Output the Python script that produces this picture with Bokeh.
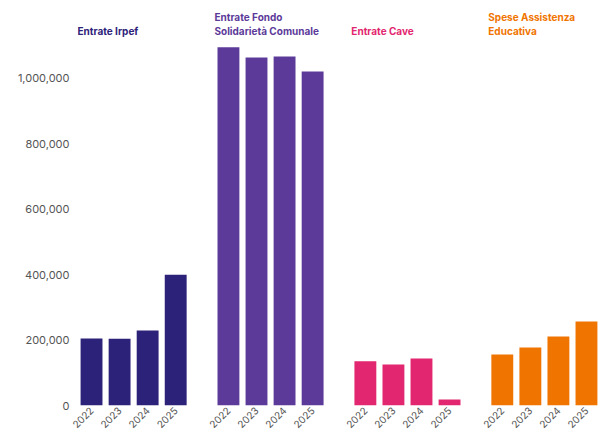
from bokeh.plotting import figure
from bokeh.models import FactorRange, Range1d, FixedTicker, ColumnDataSource, NumeralTickFormatter
from bokeh.core.properties import value
from bokeh.embed import file_html
from bokeh.resources import INLINE

years = ["2022", "2023", "2024", "2025"]
groups = ["Irpef", "Fondo", "Cave", "Spese"]
titles = ["Entrate Irpef", "Entrate Fondo\nSolidarietà Comunale", "Entrate Cave", "Spese Assistenza\nEducativa"]
irpef = [205000, 204000, 229000, 400000]
fondo = [1095000, 1064000, 1067000, 1021000]
cave = [135000, 125000, 144000, 18000]
spese = [156000, 177000, 211000, 257000]
colors = ["#2d2279", "#5c3a99", "#e2266f", "#f07400"]
y_ticks = [0, 200000, 400000, 600000, 800000, 1000000]
title_y = 1128000

series = [irpef, fondo, cave, spese]
xs, tops, cols = [], [], []
for g, vals, c in zip(groups, series, colors):
    for yr, v in zip(years, vals):
        xs.append((g, yr))
        tops.append(v)
        cols.append(c)
src = ColumnDataSource(dict(x=xs, top=tops, color=cols))

factors = [(g, yr) for g in groups for yr in years]
p = figure(x_range=FactorRange(*factors, group_padding=0.88, factor_padding=0.0,
                               range_padding=0.0, range_padding_units="absolute"),
           y_range=Range1d(0, 1226000),
           width=600, height=438, output_backend="svg", toolbar_location=None,
           min_border_left=77, min_border_right=0, min_border_top=4, min_border_bottom=33)
p.vbar(x="x", top="top", width=0.78, color="color", source=src, line_color=None)

tsrc = ColumnDataSource(dict(x=[(g, years[0]) for g in groups], y=[title_y] * 4,
                             text=titles, color=colors))
p.text(x="x", y="y", text="text", text_color="color", source=tsrc,
       x_offset=-14, text_align="left", text_baseline="bottom",
       text_font=value("Inter"), text_font_style="bold", text_font_size="10px",
       text_line_height=1.15)

p.outline_line_color = None
p.xgrid.grid_line_color = None
p.ygrid.grid_line_color = None

p.yaxis.ticker = FixedTicker(ticks=y_ticks)
p.yaxis.formatter = NumeralTickFormatter(format="0,0")
p.yaxis.axis_line_color = None
p.yaxis.major_tick_line_color = None
p.yaxis.minor_tick_line_color = None
p.yaxis.major_tick_out = 0
p.yaxis.minor_tick_out = 0
p.yaxis.major_label_text_font = "Inter"
p.yaxis.major_label_text_font_size = "11px"
p.yaxis.major_label_text_color = "#555555"
p.yaxis.major_label_standoff = 8

p.xaxis.axis_line_color = None
p.xaxis.major_tick_line_color = None
p.xaxis.major_tick_out = 0
p.xaxis.major_label_orientation = 0.785
p.xaxis.major_label_text_font = "Inter"
p.xaxis.major_label_text_font_size = "10px"
p.xaxis.major_label_text_color = "#555555"
p.xaxis.major_label_standoff = 3
p.xaxis.group_text_font_size = "1px"
p.xaxis.group_text_color = None
p.xaxis.separator_line_color = None

open("out.html", "w").write(file_html(p, INLINE))
